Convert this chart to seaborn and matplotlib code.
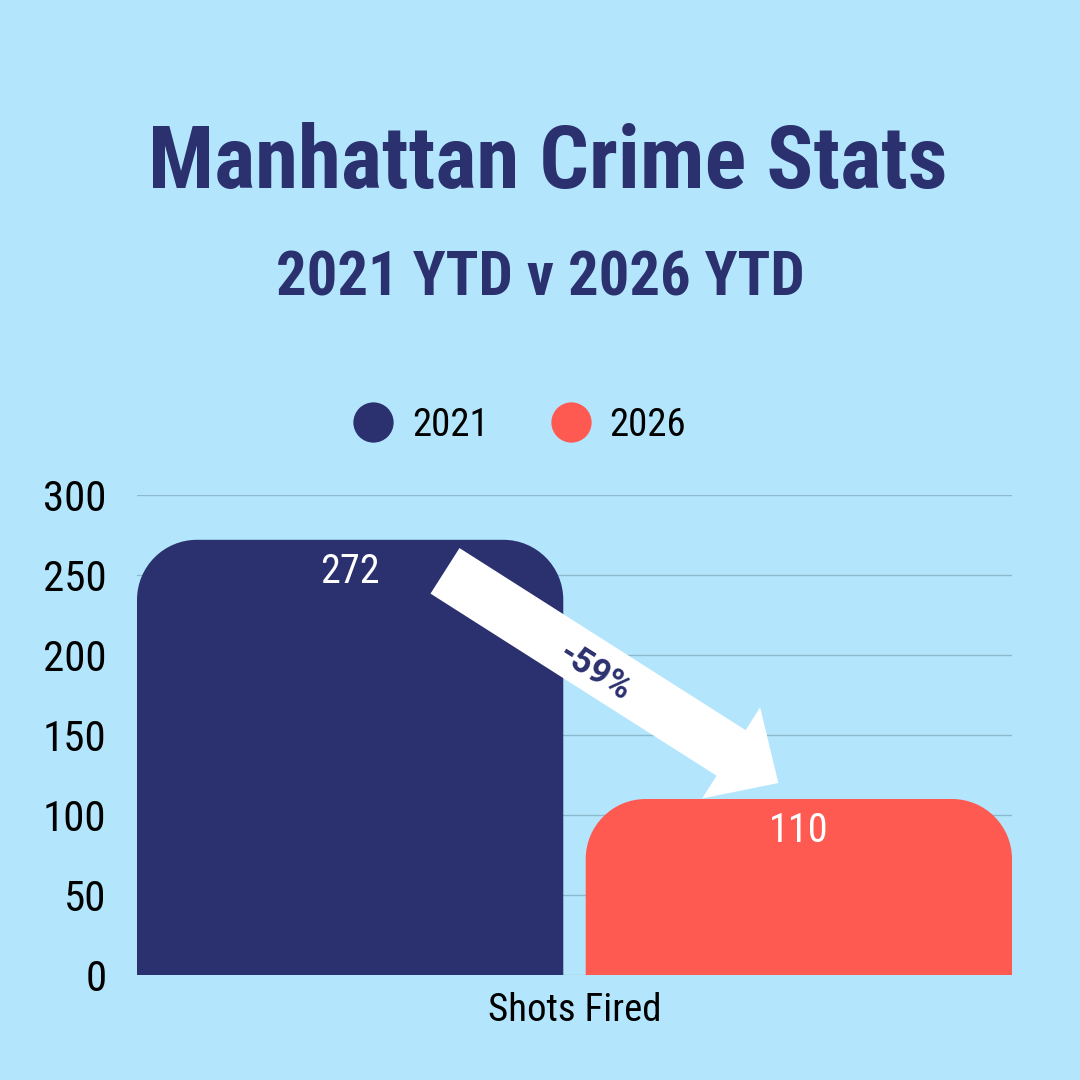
import matplotlib
matplotlib.use("Agg")
import matplotlib.pyplot as plt
import seaborn as sns
import pandas as pd
import numpy as np
from matplotlib import font_manager
from matplotlib.patches import PathPatch, FancyArrow
from matplotlib.path import Path
from matplotlib.lines import Line2D
from matplotlib.transforms import IdentityTransform


# ── Data ───────────────────────────────────────────────────────────────────────
category = ["Shots Fired"]
years = ["2021", "2026"]
counts = [272, 110]
change_label = "-59%"
title = "Manhattan Crime Stats"
subtitle = "2021 YTD v 2026 YTD"
y_ticks = [0, 50, 100, 150, 200, 250, 300]

# ── Style ──────────────────────────────────────────────────────────────────────
BG = "#B3E6FD"
NAVY = "#2B306E"
CORAL = "#FF5A52"
GRID = "#8DB9CF"

# pick the narrowest family that is actually installed
fonts = font_manager.fontManager.ttflist
names = {f.name for f in fonts}
NARROW, STRETCH = "DejaVu Sans", "normal"
for fam in ["Roboto Condensed", "Liberation Sans Narrow", "Open Sans Condensed"]:
    if fam in names:
        NARROW = fam
        break
else:
    if any(f.name == "DejaVu Sans" and f.stretch == "condensed" for f in fonts):
        STRETCH = "condensed"

# heavy geometric-ish face for the "-59%" label
BADGE = next((fam for fam in ["Roboto", "Open Sans", "Noto Sans"]
              if any(f.name == fam and f.weight in (700, "bold") for f in fonts)),
             "DejaVu Sans")

sns.set_theme(style="white")
plt.rcParams["font.family"] = [NARROW, "DejaVu Sans"]
plt.rcParams["font.stretch"] = STRETCH

df = pd.DataFrame({
    "category": category * len(years),
    "year": years,
    "count": counts,
})

W = H = 1080
fig = plt.figure(figsize=(10.8, 10.8), dpi=100, facecolor=BG)
ax = fig.add_axes([137 / W, 105 / H, 875 / W, 480 / H])
ax.set_facecolor(BG)

sns.barplot(data=df, x="category", y="count", hue="year",
            palette=[NAVY, CORAL], width=1, gap=0.05, saturation=1,
            legend=False, ax=ax)

ax.set_ylim(0, 300)
ax.set_xlim(-0.4875, 0.4875)
ax.set_yticks(y_ticks)
ax.yaxis.grid(True, color=GRID, lw=1)
ax.set_axisbelow(True)
ax.set_xlabel("")
ax.set_ylabel("")
sns.despine(ax=ax, left=True, bottom=True)
ax.tick_params(axis="y", length=0, pad=22, labelsize=31, labelcolor="black")
ax.tick_params(axis="x", length=0, pad=12, labelsize=28, labelcolor="black")


# ── Rounded bar tops ──────────────────────────────────────────────────────────
def rounded_top(x0, y0, x1, y1, r):
    k = 0.5523 * r
    verts = [(x0, y0), (x0, y1 - r),
             (x0, y1 - r + k), (x0 + r - k, y1), (x0 + r, y1),
             (x1 - r, y1),
             (x1 - r + k, y1), (x1, y1 - r + k), (x1, y1 - r),
             (x1, y0), (x0, y0)]
    codes = [Path.MOVETO, Path.LINETO,
             Path.CURVE4, Path.CURVE4, Path.CURVE4,
             Path.LINETO,
             Path.CURVE4, Path.CURVE4, Path.CURVE4,
             Path.LINETO, Path.CLOSEPOLY]
    return Path(verts, codes)


for bar in list(ax.patches):
    (px0, py0), (px1, py1) = ax.transData.transform(
        [(bar.get_x(), 0), (bar.get_x() + bar.get_width(), bar.get_height())])
    patch = PathPatch(rounded_top(px0, py0, px1, py1, 60),
                      facecolor=bar.get_facecolor(), edgecolor="none",
                      transform=IdentityTransform(), zorder=2)
    ax.add_patch(patch)
    ax.annotate(f"{int(round(bar.get_height()))}",
                (bar.get_x() + bar.get_width() / 2, bar.get_height()),
                xytext=(0, -23), textcoords="offset points",
                ha="center", va="center", color="white", fontsize=29, zorder=3)
    bar.remove()

# ── Change arrow ──────────────────────────────────────────────────────────────
tail = ax.transAxes.transform((0.352, 0.842))
tip = ax.transAxes.transform((0.733, 0.400))
arrow = FancyArrow(tail[0], tail[1], tip[0] - tail[0], tip[1] - tail[1],
                   width=54, head_width=108, head_length=56,
                   length_includes_head=True, facecolor="white",
                   edgecolor="none", transform=IdentityTransform(), zorder=4)
ax.add_patch(arrow)
angle = np.degrees(np.arctan2(tip[1] - tail[1], tip[0] - tail[0]))
ax.text(0.523, 0.631, change_label, transform=ax.transAxes,
        rotation=angle, rotation_mode="anchor", ha="center", va="center",
        color=NAVY, fontsize=25, fontweight="bold", fontstretch="normal",
        family=[BADGE, "DejaVu Sans"], zorder=6)

# ── Legend ────────────────────────────────────────────────────────────────────
handles = [Line2D([], [], marker="o", ls="", markersize=29,
                  markerfacecolor=c, markeredgewidth=0)
           for c in [NAVY, CORAL]]
fig.legend(handles, years, loc="center", bbox_to_anchor=(520 / W, 1 - 425 / H),
           ncol=2, frameon=False, fontsize=28, labelcolor="black",
           handlelength=1.0, handletextpad=0.5, columnspacing=1.6)

# ── Titles ────────────────────────────────────────────────────────────────────
t1 = fig.text(548 / W, 1 - 188 / H, title, ha="center", va="baseline",
              color=NAVY, fontsize=80, fontweight="bold")
t2 = fig.text(540 / W, 1 - 295 / H, subtitle, ha="center", va="baseline",
              color=NAVY, fontsize=60, fontweight="bold")


def fit_width(txt, target_px):
    r = fig.canvas.get_renderer()
    w = txt.get_window_extent(r).width
    txt.set_fontsize(txt.get_fontsize() * target_px / w)


fit_width(t1, 800)
fit_width(t2, 530)

fig.savefig("out.png", dpi=100, facecolor=BG)
